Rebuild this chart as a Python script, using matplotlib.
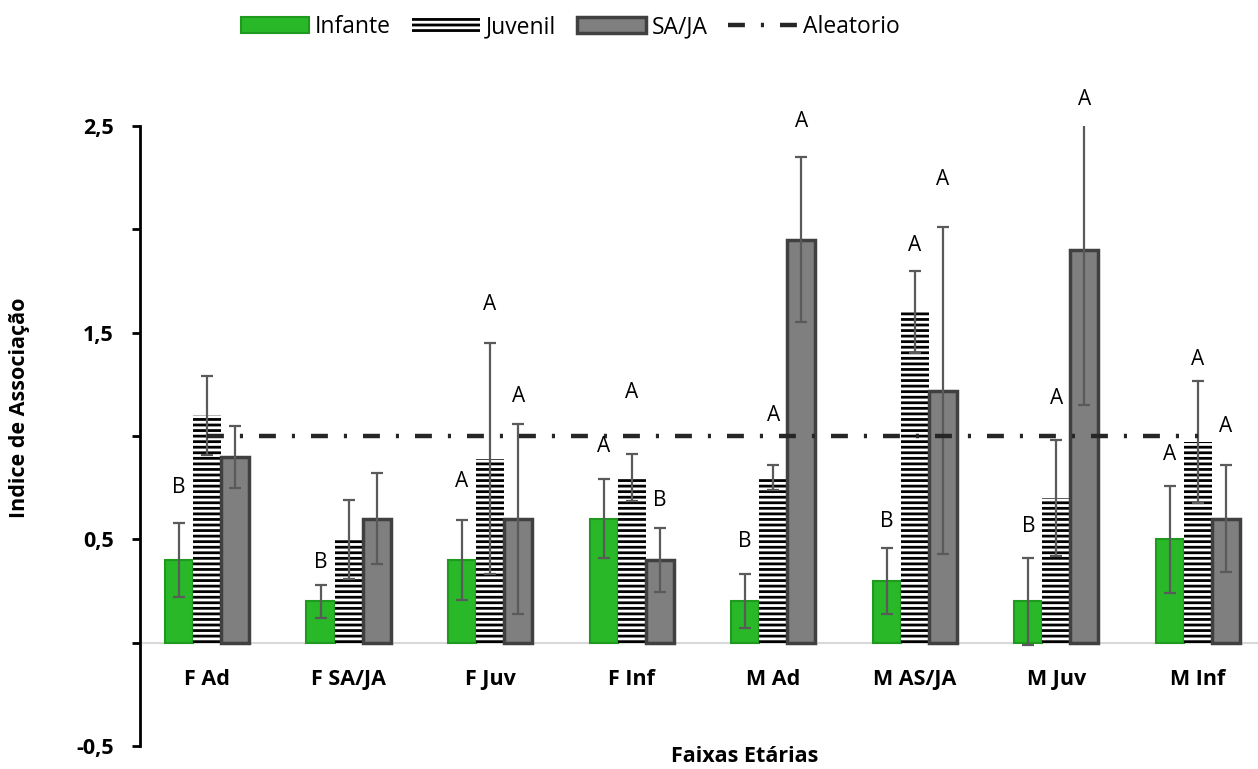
import matplotlib.pyplot as plt
import matplotlib.patches as mpatches
from matplotlib.lines import Line2D
import numpy as np

plt.rcParams['font.family'] = ['Open Sans', 'DejaVu Sans']
plt.rcParams['hatch.linewidth'] = 2.0

# Dane
categories = ['F Ad', 'F SA/JA', 'F Juv', 'F Inf', 'M Ad', 'M AS/JA', 'M Juv', 'M Inf']
infante = [0.40, 0.20, 0.40, 0.60, 0.20, 0.30, 0.20, 0.50]
infante_err = [0.18, 0.08, 0.195, 0.19, 0.13, 0.16, 0.21, 0.26]
juvenil = [1.10, 0.50, 0.89, 0.80, 0.80, 1.60, 0.70, 0.97]
juvenil_err = [0.19, 0.19, 0.56, 0.115, 0.06, 0.20, 0.28, 0.295]
sa_ja = [0.90, 0.60, 0.60, 0.40, 1.95, 1.22, 1.90, 0.60]
sa_ja_err = [0.15, 0.22, 0.46, 0.155, 0.40, 0.79, 0.75, 0.26]
aleatorio = [1.0] * 8

# Litery istotności (etykieta, wysokość) dla każdej serii
infante_lab = ['B', 'B', 'A', 'A', 'B', 'B', 'B', 'A']
infante_lab_y = [0.75, 0.39, 0.78, 0.95, 0.49, 0.585, 0.56, 0.91]
juvenil_lab = ['', '', 'A', 'A', 'A', 'A', 'A', 'A']
juvenil_lab_y = [0, 0, 1.635, 1.21, 1.10, 1.92, 1.18, 1.37]
sa_ja_lab = ['', '', 'A', 'B', 'A', 'A', 'A', 'A']
sa_ja_lab_y = [0, 0, 1.19, 0.69, 2.52, 2.24, 2.63, 1.045]

x = np.arange(len(categories))
w = 0.198

fig = plt.figure(figsize=(12.58, 7.69), dpi=100)
ax = fig.add_axes([140/1258, 23/769, 1118/1258, 620/769])

err_kw = dict(ecolor='#5a5a5a', elinewidth=1.6, capsize=4.5, capthick=1.6)

ax.bar(x - w, infante, w, yerr=infante_err, color='#28b828', edgecolor='#1f9a1f',
       linewidth=1.5, error_kw=err_kw, zorder=2, label='Infante')
ax.bar(x, juvenil, w, yerr=juvenil_err, color='white', edgecolor='black', hatch='---',
       linewidth=0, error_kw=err_kw, zorder=2, label='Juvenil')
ax.bar(x + w, sa_ja, w, yerr=sa_ja_err, color='#7f7f7f', edgecolor='#404040',
       linewidth=2.5, error_kw=err_kw, zorder=2, label='SA/JA')
ax.plot(x, aleatorio, color='#262626', linewidth=3.2, dashes=(3.8, 3.6, 0.7, 3.6),
        zorder=3, label='Aleatorio')

ax.axhline(0, color='#d9d9d9', linewidth=1.5, zorder=1)

for offs, labs, ys in [(-w, infante_lab, infante_lab_y),
                       (0, juvenil_lab, juvenil_lab_y),
                       (w, sa_ja_lab, sa_ja_lab_y)]:
    for i, (lab, yy) in enumerate(zip(labs, ys)):
        if lab:
            ax.text(x[i] + offs, yy, lab, ha='center', va='center', fontsize=15, zorder=4)

for i, cat in enumerate(categories):
    ax.text(x[i], -0.18, cat, ha='center', va='center', fontsize=15.5, fontweight='bold')

ax.set_xlim(-0.473, 7.424)
ax.set_ylim(-0.5, 2.5)
ax.set_yticks([-0.5, 0.5, 1.5, 2.5])
ax.set_yticklabels(['-0,5', '0,5', '1,5', '2,5'], fontweight='bold', fontsize=15.5)
ax.set_yticks([0, 1, 2], minor=True)
ax.tick_params(axis='y', which='both', direction='out', length=6, width=2, pad=13)
ax.set_xticks([])
for s in ['top', 'right', 'bottom']:
    ax.spines[s].set_visible(False)
ax.spines['left'].set_linewidth(2)

fig.text(20/1258, 1 - 408/769, 'Indice de Associação', rotation=90, ha='center', va='center',
         fontsize=15.5, fontweight='bold')
fig.text(745/1258, 1 - 757/769, 'Faixas Etárias', ha='center', va='center',
         fontsize=15.5, fontweight='bold')

handles = [mpatches.Patch(facecolor='#28b828', edgecolor='#1f9a1f', linewidth=1.5),
           mpatches.Patch(facecolor='white', edgecolor='black', hatch='---', linewidth=0),
           mpatches.Patch(facecolor='#7f7f7f', edgecolor='#404040', linewidth=2.5),
           Line2D([0], [0], color='#262626', linewidth=3.2, dashes=(3.8, 3.6, 0.7, 3.6))]
fig.legend(handles, ['Infante', 'Juvenil', 'SA/JA', 'Aleatorio'], loc='center',
           bbox_to_anchor=(570/1258, 1 - 27/769), ncol=4, frameon=False, fontsize=16.5,
           handlelength=3.0, handleheight=0.7, handletextpad=0.25, columnspacing=0.9)

plt.savefig('out.png', dpi=100)
